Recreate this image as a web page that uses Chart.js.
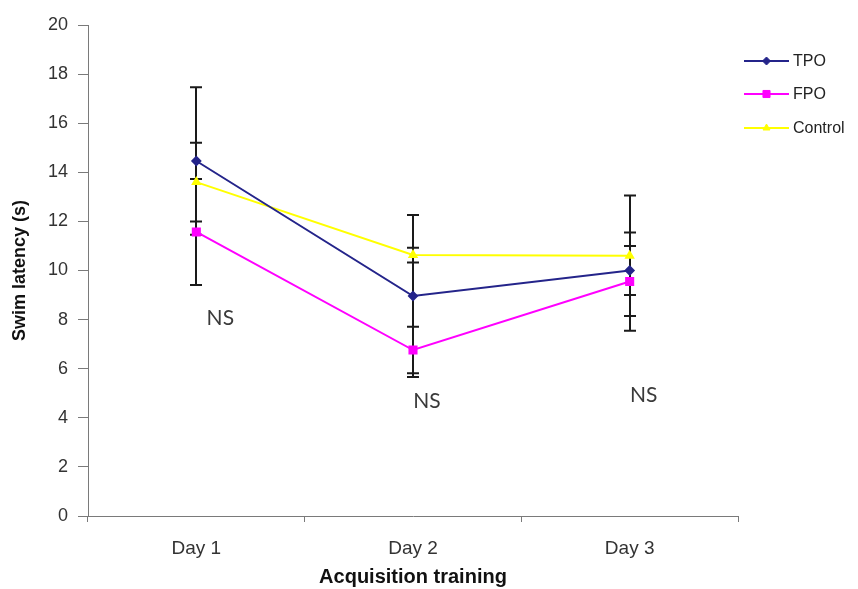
<!DOCTYPE html>
<html><head><meta charset="utf-8">
<script src="https://cdn.jsdelivr.net/npm/chart.js@4/dist/chart.umd.min.js"></script>
<style>html,body{margin:0;padding:0;background:#fff}#wrap{width:858px;height:589px}</style>
</head><body><div id="wrap"><canvas id="c" width="858" height="589"></canvas></div>
<script>
const categories = ['Day 1', 'Day 2', 'Day 3'];
const tpoValues = [14.46, 8.96, 10.0];
const tpoErrors = [3.0, 3.3, 1.0];
const fpoValues = [11.57, 6.76, 9.55];
const fpoErrors = [2.16, 0.95, 2.0];
const controlValues = [13.6, 10.63, 10.6];
const controlErrors = [1.6, 0.3, 2.45];
const seriesNames = ['TPO', 'FPO', 'Control'];
const nsLabels = ['NS', 'NS', 'NS'];
const nsValues = [8.07, 4.68, 4.93];
const yTicks = [0, 2, 4, 6, 8, 10, 12, 14, 16, 18, 20];

const errs = [tpoErrors, fpoErrors, controlErrors];
const FONT = '"Liberation Sans", Arial, sans-serif';

const errorBarPlugin = {
  id: 'errbars',
  beforeDatasetsDraw(chart) {
    const ctx = chart.ctx, y = chart.scales.y;
    ctx.save();
    ctx.strokeStyle = '#1a1a1a';
    ctx.lineWidth = 2;
    chart.data.datasets.forEach((ds, i) => {
      const meta = chart.getDatasetMeta(i);
      meta.data.forEach((pt, j) => {
        const v = ds.data[j], e = errs[i][j];
        const yt = y.getPixelForValue(v + e), yb = y.getPixelForValue(v - e);
        const x = Math.round(pt.x);
        ctx.beginPath();
        ctx.moveTo(x, yt); ctx.lineTo(x, yb);
        ctx.moveTo(x - 6, yt); ctx.lineTo(x + 6, yt);
        ctx.moveTo(x - 6, yb); ctx.lineTo(x + 6, yb);
        ctx.stroke();
      });
    });
    ctx.restore();
  }
};

const nsPlugin = {
  id: 'nslabels',
  afterDatasetsDraw(chart, args, opts) {
    const ctx = chart.ctx, x = chart.scales.x, y = chart.scales.y;
    ctx.save();
    ctx.font = '21px Lato, "Open Sans", sans-serif';
    ctx.fillStyle = '#3a3a3a';
    ctx.textAlign = 'center';
    ctx.textBaseline = 'middle';
    nsLabels.forEach((t, j) => {
      ctx.fillText(t, x.getPixelForValue(j) + opts.dx[j], y.getPixelForValue(nsValues[j]));
    });
    ctx.restore();
  }
};

const legendPlugin = {
  id: 'customLegend',
  afterDraw(chart) {
    const ctx = chart.ctx;
    const x0 = 744, x1 = 789, ys = [61, 94, 128];
    ctx.save();
    chart.data.datasets.forEach((ds, i) => {
      const yy = ys[i];
      ctx.strokeStyle = ds.borderColor;
      ctx.lineWidth = ds.borderWidth;
      ctx.beginPath(); ctx.moveTo(x0, yy); ctx.lineTo(x1, yy); ctx.stroke();
      ctx.fillStyle = ds.pointBackgroundColor;
      ctx.strokeStyle = ds.pointBorderColor;
      ctx.lineWidth = 1;
      Chart.helpers.drawPoint(ctx, {pointStyle: ds.pointStyle, radius: ds.pointRadius, rotation: 0, borderWidth: 1},
        (x0 + x1) / 2, yy);
      ctx.font = '16px ' + FONT;
      ctx.fillStyle = '#222';
      ctx.textAlign = 'left';
      ctx.textBaseline = 'middle';
      ctx.fillText(ds.label, x1 + 4, yy + 1);
    });
    ctx.restore();
  }
};

const colors = ['#24248a', '#ff00ff', '#ffff00'];
const styles = ['rectRot', 'rect', 'triangle'];
const radii = [4, 5, 4];
const vals = [tpoValues, fpoValues, controlValues];

new Chart(document.getElementById('c'), {
  type: 'line',
  data: {
    labels: categories,
    datasets: seriesNames.map((n, i) => ({
      label: n,
      data: vals[i],
      borderColor: colors[i],
      backgroundColor: colors[i],
      pointBackgroundColor: colors[i],
      pointBorderColor: colors[i],
      pointStyle: styles[i],
      pointRadius: radii[i],
      borderWidth: 2,
      tension: 0,
      fill: false
    }))
  },
  options: {
    responsive: false,
    animation: false,
    devicePixelRatio: 1,
    layout: { padding: { top: 25, right: 120, left: 0, bottom: 0 } },
    plugins: { legend: { display: false }, tooltip: { enabled: false }, nslabels: { dx: [24, 14, 14] } },
    scales: {
      x: {
        offset: true,
        grid: { offset: true, drawOnChartArea: false, drawTicks: true, tickLength: 6, color: '#7a7a7a' },
        border: { display: true, color: '#7a7a7a', width: 1 },
        ticks: { color: '#333', font: { family: FONT, size: 19 }, padding: 15 },
        title: { display: true, text: 'Acquisition training', color: '#111',
          font: { family: FONT, size: 20, weight: 'bold' }, padding: { top: 0, bottom: 0 } },
        afterFit(s) { s.height = 73; }
      },
      y: {
        min: 0, max: 20,
        afterBuildTicks(s) { s.ticks = yTicks.map(v => ({ value: v })); },
        grid: { drawOnChartArea: false, drawTicks: true, tickLength: 10, color: '#7a7a7a' },
        border: { display: true, color: '#7a7a7a', width: 1 },
        ticks: { color: '#333', font: { family: FONT, size: 18 }, padding: 10 },
        title: { display: true, text: 'Swim latency (s)', color: '#111',
          font: { family: FONT, size: 18, weight: 'bold' }, padding: { top: 9, bottom: 0 } },
        afterFit(s) { s.width = 88; }
      }
    }
  },
  plugins: [errorBarPlugin, nsPlugin, legendPlugin]
});
</script>
</body></html>
